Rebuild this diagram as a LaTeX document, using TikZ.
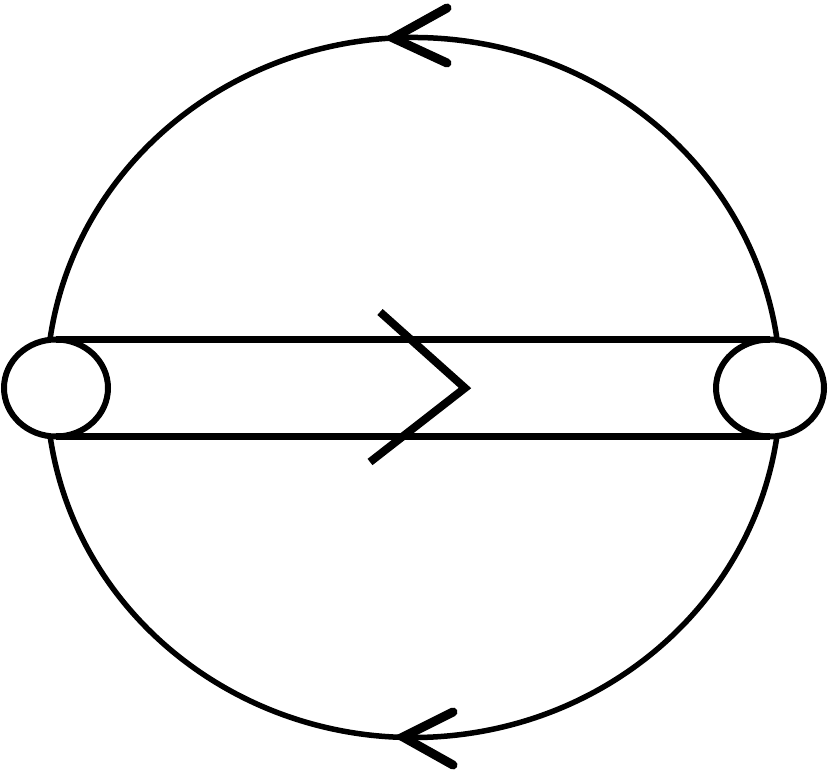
\documentclass[tikz,border=0pt]{standalone}
\usetikzlibrary{shapes.geometric}
\begin{document}
\begin{tikzpicture}[x=1pt,y=1pt,
  blob/.style={draw, ellipse, fill=white, line width=6, inner sep=0, outer sep=0, minimum height=97},
  loopline/.style={line width=5.5},
  barline/.style={line width=7},
  chev/.style={line width=9, line cap=round, line join=miter},
  midchev/.style={line width=8, line join=miter}]
\useasboundingbox (0,0) rectangle (830,779);
% outer loop
\draw[loopline] (413.5,391.5) ++(171.8:367 and 350) arc[start angle=171.8, end angle=8.2, x radius=367, y radius=350];
\draw[loopline] (413.5,391.5) ++(188.2:367 and 350) arc[start angle=188.2, end angle=351.8, x radius=367, y radius=350];
% vertices
\node[blob, minimum width=104] (L) at (56,391) {};
\node[blob, minimum width=108] (R) at (770,391) {};
% double line
\draw[barline] (L.north) -- (R.north);
\draw[barline] (L.south) -- (R.south);
% arrows
\coordinate (ta) at (393,741);
\draw[chev] (447,771) -- (ta) -- (447,716);
\coordinate (ba) at (403,42);
\draw[chev] (453,67) -- (ba) -- (453,14);
\coordinate (ma) at (465,391);
\draw[midchev] (380,467) -- (ma) -- (370,317);
\end{tikzpicture}
\end{document}
